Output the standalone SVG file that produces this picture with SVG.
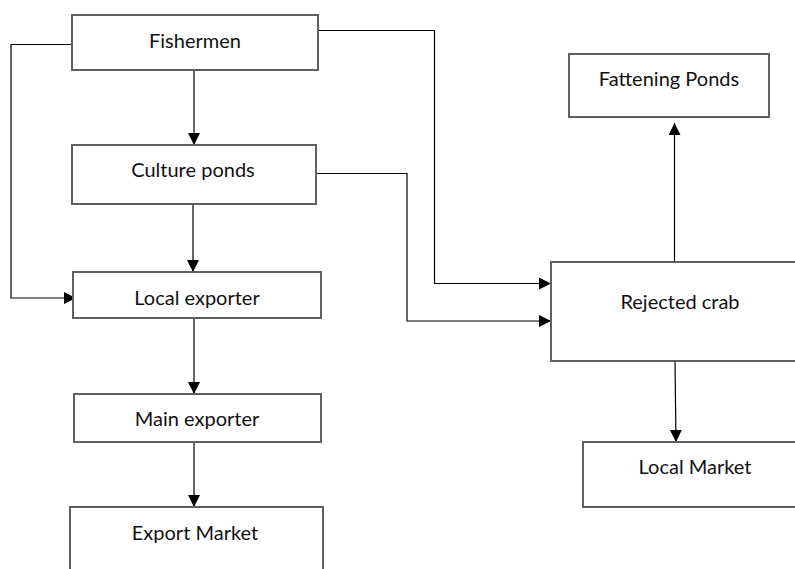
<svg xmlns="http://www.w3.org/2000/svg" width="795" height="569" viewBox="0 0 795 569">
<defs>
<style>
.box{fill:#fff;stroke:#606060;stroke-width:2}
.lbl{font-family:Lato,"Open Sans","Liberation Sans",sans-serif;font-size:20px;fill:#111;text-anchor:middle}
.con{fill:none;stroke:#000;stroke-width:1.2}
</style>
<marker id="ah" viewBox="0 0 10 10" refX="10" refY="5" markerWidth="12" markerHeight="12" markerUnits="userSpaceOnUse" orient="auto">
<path d="M0,0 L10,5 L0,10 Z" fill="#000"/>
</marker>
</defs>
<rect width="795" height="569" fill="#fff"/>
<g id="connectors">
<path class="con" d="M194,70 V145" marker-end="url(#ah)"/>
<path class="con" d="M72,44.5 H11 V298 H76" marker-end="url(#ah)"/>
<path class="con" d="M193,204 V272" marker-end="url(#ah)"/>
<path class="con" d="M194,318 V394" marker-end="url(#ah)"/>
<path class="con" d="M194,442 V507" marker-end="url(#ah)"/>
<path class="con" d="M318,30.5 H434.5 V283.5 H551" marker-end="url(#ah)"/>
<path class="con" d="M316,173.5 H407 V321 H551" marker-end="url(#ah)"/>
<path class="con" d="M674.5,262 V123" marker-end="url(#ah)"/>
<path class="con" d="M675,361 L676,442" marker-end="url(#ah)"/>
</g>
<g id="fishermen"><rect class="box" x="72" y="15" width="246" height="55"/><text class="lbl" x="195" y="48">Fishermen</text></g>
<g id="culture-ponds"><rect class="box" x="72" y="145" width="244" height="59"/><text class="lbl" x="193" y="177">Culture ponds</text></g>
<g id="local-exporter"><rect class="box" x="73" y="272" width="248" height="46"/><text class="lbl" x="197" y="305">Local exporter</text></g>
<g id="main-exporter"><rect class="box" x="74" y="394" width="247" height="48"/><text class="lbl" x="197" y="426">Main exporter</text></g>
<g id="export-market"><rect class="box" x="70" y="507" width="253" height="70"/><text class="lbl" x="195" y="540">Export Market</text></g>
<g id="fattening-ponds"><rect class="box" x="569" y="54" width="200" height="63"/><text class="lbl" x="669" y="86">Fattening Ponds</text></g>
<g id="rejected-crab"><rect class="box" x="551" y="262" width="260" height="99"/><text class="lbl" x="680" y="309">Rejected crab</text></g>
<g id="local-market"><rect class="box" x="583" y="442" width="230" height="65"/><text class="lbl" x="695" y="474">Local Market</text></g>
</svg>
